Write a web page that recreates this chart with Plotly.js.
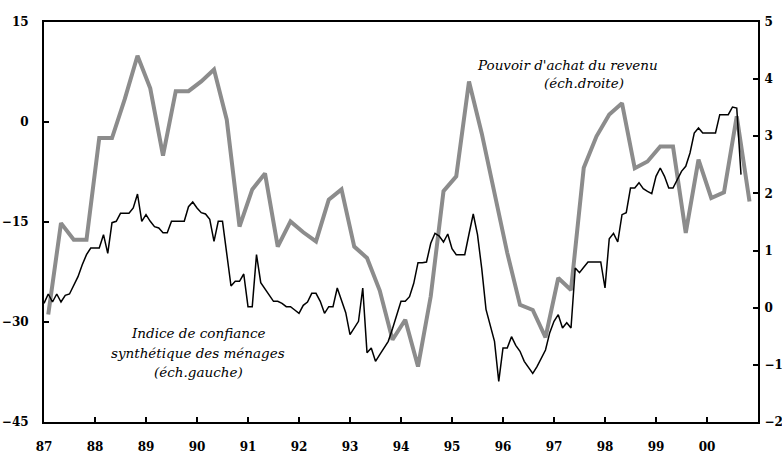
<!DOCTYPE html>
<html>
<head>
<meta charset="utf-8">
<script src="https://cdn.plot.ly/plotly-3.0.1.min.js"></script>
<style>html,body{margin:0;padding:0;background:#fff;}#chart{width:782px;height:454px;}</style>
</head>
<body>
<div id="chart"></div>
<script>
// Indice de confiance synthétique des ménages (monthly, Jan 1987 - Sep 2000), left scale
var confStartYear = 1987;
var confiance = [
  -27.2,-25.8,-27.0,-25.8,-27.0,-26.0,-25.8,-24.4,-23.2,-21.4,-19.9,-18.9,
  -18.9,-18.9,-16.9,-19.7,-15.1,-14.9,-13.7,-13.7,-13.7,-12.9,-10.8,-14.9,
  -13.9,-14.9,-15.7,-15.9,-16.6,-16.6,-14.9,-14.9,-14.9,-14.9,-12.7,-12.0,
  -12.9,-13.6,-13.8,-14.6,-17.9,-14.9,-14.9,-20.0,-24.6,-23.9,-23.9,-22.8,
  -27.7,-27.7,-19.9,-24.1,-25.1,-26.0,-26.9,-26.9,-27.2,-27.7,-27.7,-28.2,
  -28.7,-27.5,-27.0,-25.7,-25.7,-26.9,-28.7,-27.7,-27.7,-24.9,-26.8,-28.6,
  -31.9,-30.9,-29.9,-24.9,-34.6,-33.9,-35.9,-34.9,-33.9,-32.9,-31.0,-29.0,
  -26.9,-26.9,-26.2,-24.2,-21.1,-21.1,-21.0,-18.2,-16.7,-17.1,-18.0,-16.8,
  -19.0,-19.9,-19.9,-19.9,-16.8,-13.8,-16.9,-22.0,-28.1,-30.5,-32.9,-38.9,
  -33.9,-33.9,-32.2,-33.5,-34.4,-35.9,-36.8,-37.7,-36.7,-35.5,-34.2,-31.6,
  -29.9,-28.9,-30.9,-30.1,-30.9,-21.9,-22.6,-21.8,-21.0,-21.0,-21.0,-21.0,
  -24.9,-17.5,-16.7,-18.0,-13.9,-13.6,-9.9,-9.9,-9.1,-10.0,-10.4,-10.75,
  -8.15,-6.9,-8.15,-9.9,-9.9,-8.75,-7.4,-6.65,-4.65,-1.65,-0.9,-1.65,
  -1.65,-1.65,-1.65,1.1,1.1,1.1,2.25,2.1,-7.9
];
// Pouvoir d'achat du revenu (quarterly, 1987Q1 - 2000Q4), right scale
var pouvoir = [
  -0.12,1.48,1.19,1.19, 2.97,2.97,3.65,4.41, 3.84,2.66,3.79,3.79,
  3.96,4.17,3.29,1.42, 2.07,2.35,1.07,1.51, 1.32,1.16,1.89,2.07,
  1.07,0.87,0.30,-0.56, -0.21,-1.03,0.20,2.04, 2.30,3.96,3.05,2.00,
  0.96,0.05,-0.04,-0.52, 0.52,0.31,2.45,3.00, 3.38,3.58,2.44,2.56,
  2.82,2.82,1.31,2.59, 1.92,2.02,3.35,1.86
];
var yearTicks = [1987,1988,1989,1990,1991,1992,1993,1994,1995,1996,1997,1998,1999,2000];
var yearLabels = ['87','88','89','90','91','92','93','94','95','96','97','98','99','00'];
var leftTicks = [-45,-30,-15,0,15];
var rightTicks = [-2,-1,0,1,2,3,4,5];

var confX = confiance.map(function(v,i){ return confStartYear + i/12; });
var pouvX = pouvoir.map(function(v,q){ return confStartYear + (1 + 3*q)/12; });

var tickFont = {family: 'DejaVu Serif', size: 12, color: '#000', weight: 700};
var noteFont = {family: 'DejaVu Serif', size: 13.5, color: '#000', style: 'italic'};

var traces = [
  {x: pouvX, y: pouvoir, type: 'scatter', mode: 'lines', yaxis: 'y',
   line: {color: '#8c8c8c', width: 4}, hoverinfo: 'skip'},
  {x: confX, y: confiance, type: 'scatter', mode: 'lines', yaxis: 'y2',
   line: {color: '#000', width: 1.5}, hoverinfo: 'skip'}
];

var layout = {
  width: 782, height: 454,
  margin: {l: 44, r: 24, t: 22, b: 32},
  paper_bgcolor: '#fff', plot_bgcolor: '#fff',
  showlegend: false,
  xaxis: {range: [1987, 2001], tickvals: yearTicks, ticktext: yearLabels,
          ticks: 'inside', ticklen: 5, tickwidth: 2, tickcolor: '#000',
          showline: true, linewidth: 2, linecolor: '#000', mirror: true,
          showgrid: false, zeroline: false, tickfont: tickFont, ticklabelstandoff: 13},
  yaxis: {range: [-2, 5], tickvals: rightTicks, side: 'right',
          ticks: 'inside', ticklen: 5, tickwidth: 2, tickcolor: '#000',
          showline: true, linewidth: 2, linecolor: '#000',
          showgrid: false, zeroline: false, tickfont: tickFont, ticklabelstandoff: 2},
  yaxis2: {range: [-45, 15], tickvals: leftTicks, side: 'left', overlaying: 'y',
          ticks: 'inside', ticklen: 5, tickwidth: 2, tickcolor: '#000',
          showline: true, linewidth: 2, linecolor: '#000',
          showgrid: false, zeroline: false, tickfont: tickFont, ticklabelstandoff: 11},
  annotations: [
    {text: "Pouvoir d'achat du revenu", xref: 'paper', yref: 'paper', x: 0.7325, y: 0.8925,
     xanchor: 'center', yanchor: 'middle', showarrow: false, font: noteFont},
    {text: "(éch.droite)", xref: 'paper', yref: 'paper', x: 0.757, y: 0.8468,
     xanchor: 'center', yanchor: 'middle', showarrow: false, font: noteFont},
    {text: "Indice de confiance", xref: 'paper', yref: 'paper', x: 0.2157, y: 0.2225,
     xanchor: 'center', yanchor: 'middle', showarrow: false, font: noteFont},
    {text: "synthétique des ménages", xref: 'paper', yref: 'paper', x: 0.2157, y: 0.1725,
     xanchor: 'center', yanchor: 'middle', showarrow: false, font: noteFont},
    {text: "(éch.gauche)", xref: 'paper', yref: 'paper', x: 0.2157, y: 0.125,
     xanchor: 'center', yanchor: 'middle', showarrow: false, font: noteFont}
  ]
};

Plotly.newPlot('chart', traces, layout, {staticPlot: true, displayModeBar: false});
</script>
</body>
</html>
